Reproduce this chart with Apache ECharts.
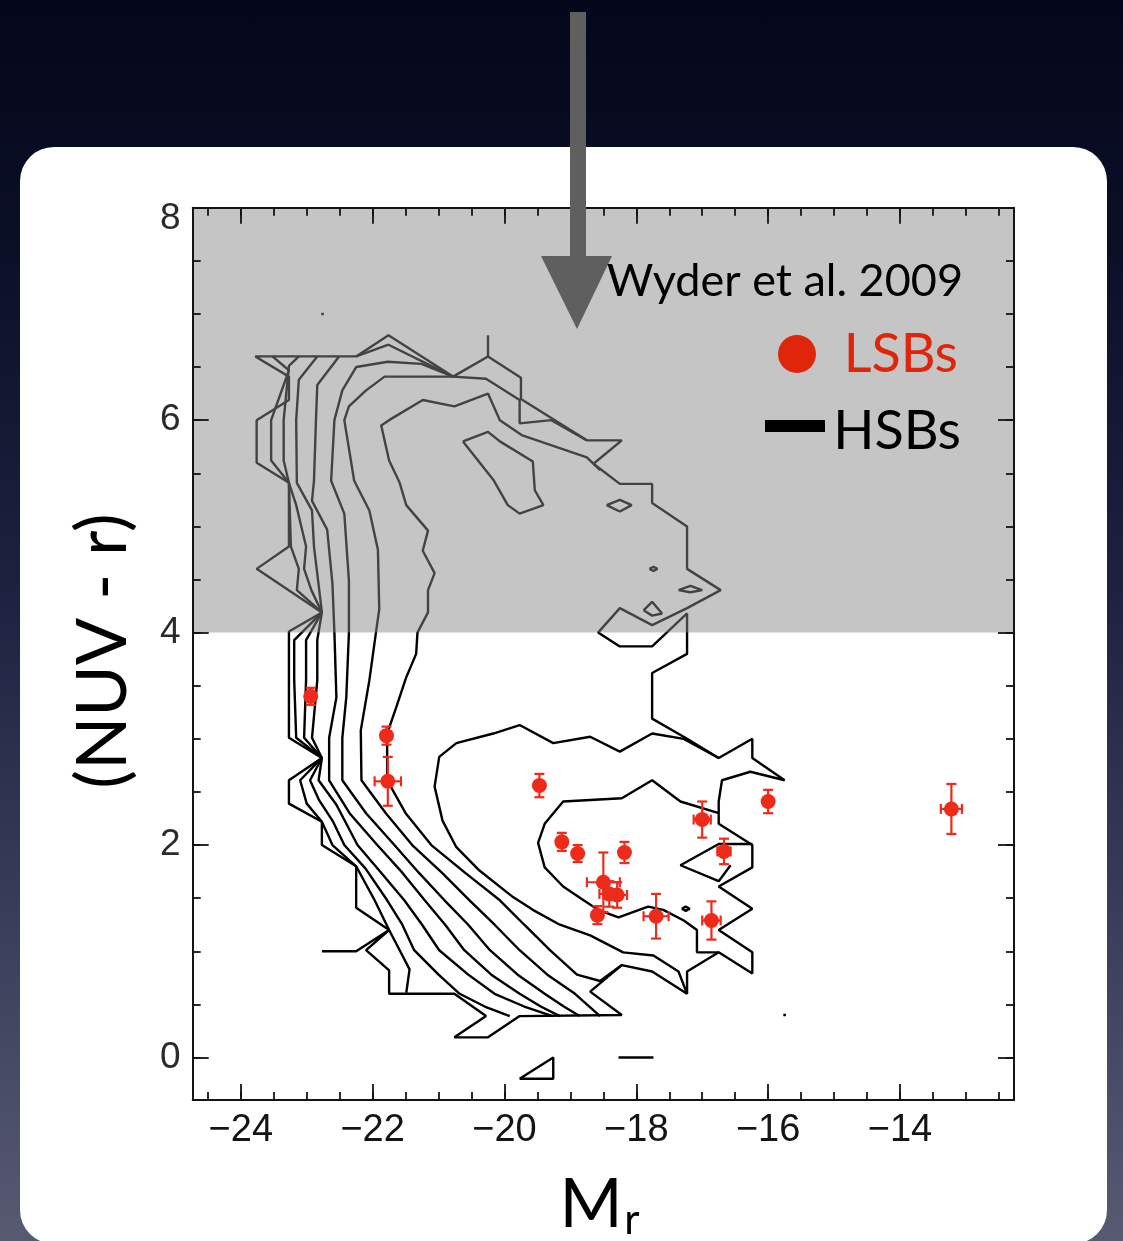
<!DOCTYPE html>
<html>
<head>
<meta charset="utf-8">
<script src="https://cdn.jsdelivr.net/npm/echarts@6/dist/echarts.min.js"></script>
<style>
  html, body { margin:0; padding:0; width:1123px; height:1241px; overflow:hidden;
    background: linear-gradient(to bottom, #04071a 0%, #0c1028 22%, #1e2240 48%, #383b58 72%, #575a71 100%); }
  #panel { position:absolute; left:20px; top:147px; width:1087px; height:1097px; background:#fff; border-radius:34px; }
  #chart { position:absolute; left:0; top:0; width:1123px; height:1241px; }
</style>
</head>
<body>
<div id="panel"></div>
<div id="chart"></div>
<script>
// ---- axes ----
const xRange = [-24.73, -12.27];
const yRange = [-0.4, 8];
const xMajorTicks = [-24, -22, -20, -18, -16, -14];
const yMajorTicks = [0, 2, 4, 6, 8];
const minorStep = 0.5;
const shadedBand = [4, 8];

// ---- LSB galaxies: M_r, (NUV - r) and their errors ----
const lsbMr        = [-22.94, -21.79, -21.77, -19.47, -19.13, -18.89, -18.18, -18.50, -18.41, -18.29, -18.59, -17.70, -16.86, -17.00, -16.67, -16.00, -13.22];
const lsbColour    = [3.40, 3.03, 2.60, 2.56, 2.03, 1.92, 1.93, 1.65, 1.54, 1.53, 1.34, 1.33, 1.29, 2.24, 1.94, 2.41, 2.34];
const lsbMrErr     = [0, 0, 0.20, 0, 0, 0, 0, 0.25, 0.15, 0.15, 0, 0.19, 0.14, 0.13, 0.10, 0, 0.16];
const lsbColourErr = [0.08, 0.085, 0.23, 0.11, 0.085, 0.08, 0.10, 0.28, 0.12, 0.12, 0.085, 0.21, 0.18, 0.17, 0.12, 0.11, 0.235];

// ---- HSB density contours (Wyder et al. 2009), vertices in [M_r, NUV-r] ----
const hsbOuter = [[-22.77,1.00],[-22.25,1.00],[-21.75,1.20],[-22.25,1.41],[-22.25,1.80],[-22.77,2.00],[-22.77,2.22],[-23.27,2.39],[-23.27,2.61],[-22.77,2.82],[-23.27,3.01],[-23.27,4.01],[-22.77,4.19],[-23.76,4.60],[-23.27,4.81],[-23.27,5.41],[-23.76,5.60],[-23.76,6.00],[-23.27,6.19],[-23.27,6.41],[-23.78,6.60],[-22.25,6.60],[-21.76,6.80],[-20.78,6.41],[-20.25,6.60],[-19.75,6.40],[-19.75,6.20],[-18.75,5.81],[-18.22,5.81],[-18.65,5.59],[-18.25,5.40],[-17.76,5.40],[-17.76,5.22],[-17.23,5.00],[-17.23,4.60],[-16.72,4.40],[-17.23,4.23],[-17.76,4.07],[-18.25,4.23],[-18.58,4.00],[-18.25,3.87],[-17.76,3.87],[-17.23,4.18],[-17.23,3.80],[-17.76,3.62],[-17.76,3.19],[-17.23,3.00],[-16.75,2.82],[-16.24,3.00],[-16.24,2.82],[-15.75,2.61],[-16.27,2.69],[-16.70,2.61],[-16.75,2.41],[-16.75,2.20],[-16.24,2.00],[-16.24,1.79],[-16.75,1.61],[-16.24,1.40],[-16.75,1.20],[-16.24,0.99],[-16.24,0.79],[-16.75,0.99],[-17.23,0.81],[-17.23,0.60],[-17.76,0.81],[-18.22,0.87],[-18.70,0.62],[-18.22,0.40],[-19.77,0.39],[-20.25,0.19],[-20.76,0.19],[-20.28,0.39],[-20.76,0.60],[-21.75,0.60],[-21.75,0.82],[-22.10,1.01],[-21.75,1.20]];
const hsbBand1 = [[-23.52,6.60],[-23.27,6.47],[-23.54,6.00],[-23.54,5.62],[-23.27,5.41],[-23.24,4.81],[-23.12,4.60],[-23.15,4.40],[-22.77,4.19],[-23.19,3.93],[-23.19,3.55],[-23.16,3.01],[-22.77,2.82],[-23.10,2.61],[-23.00,2.39],[-22.77,2.22],[-22.61,2.00],[-22.25,1.80],[-21.97,1.48],[-21.75,1.20],[-21.59,1.01],[-21.44,0.83],[-21.49,0.61]];
const hsbBand2 = [[-23.12,6.60],[-23.27,6.51],[-23.35,6.00],[-23.35,5.62],[-23.27,5.41],[-23.16,5.20],[-23.01,4.81],[-23.04,4.60],[-22.93,4.40],[-22.77,4.19],[-23.01,3.93],[-23.01,3.55],[-23.04,3.01],[-22.77,2.82],[-22.95,2.61],[-22.81,2.42],[-22.60,2.22],[-22.43,2.00],[-22.11,1.78],[-21.78,1.48],[-21.55,1.25],[-21.37,1.01],[-21.00,0.78],[-20.68,0.60],[-20.30,0.48],[-19.92,0.39]];
const hsbBand3 = [[-22.84,6.60],[-23.12,6.38],[-23.16,6.00],[-23.15,5.41],[-22.92,5.15],[-22.89,4.81],[-22.81,4.40],[-22.77,4.19],[-22.84,3.93],[-22.84,3.55],[-22.92,3.01],[-22.77,2.82],[-22.82,2.61],[-22.55,2.38],[-22.23,2.00],[-21.90,1.76],[-21.52,1.48],[-21.25,1.25],[-20.99,1.01],[-20.55,0.78],[-20.15,0.60],[-19.70,0.48],[-19.27,0.39]];
const hsbBand4 = [[-22.51,6.60],[-22.84,6.33],[-22.86,6.00],[-22.89,5.43],[-22.92,5.24],[-22.69,4.97],[-22.61,4.46],[-22.58,4.00],[-22.55,3.39],[-22.66,3.01],[-22.66,2.61],[-22.35,2.30],[-21.93,2.00],[-21.55,1.74],[-21.21,1.48],[-20.90,1.25],[-20.61,1.01],[-20.20,0.78],[-19.77,0.60],[-19.45,0.48],[-19.16,0.39]];
const hsbBand5 = [[-20.78,6.41],[-21.26,6.53],[-21.77,6.55],[-22.25,6.50],[-22.46,6.28],[-22.58,6.00],[-22.63,5.43],[-22.43,5.12],[-22.36,4.49],[-22.36,4.00],[-22.40,3.39],[-22.46,3.01],[-22.46,2.61],[-22.10,2.30],[-21.67,2.00],[-21.30,1.74],[-20.91,1.48],[-20.55,1.25],[-20.22,1.01],[-19.80,0.78],[-19.39,0.60],[-19.10,0.48],[-18.86,0.39]];
const hsbBand6 = [[-18.75,5.81],[-19.29,6.00],[-19.77,5.97],[-19.77,6.19],[-20.28,6.39],[-20.78,6.41],[-21.82,6.41],[-22.10,6.28],[-22.36,6.13],[-22.43,6.00],[-22.28,5.43],[-22.05,5.15],[-21.92,4.78],[-21.90,4.22],[-21.95,4.00],[-22.05,3.55],[-22.18,3.08],[-22.17,2.61],[-21.80,2.30],[-21.40,2.00],[-20.95,1.74],[-20.53,1.48],[-20.15,1.25],[-19.77,1.01],[-19.35,0.78],[-18.93,0.60],[-18.55,0.39]];
const hsbBand7 = [[-18.55,5.53],[-18.75,5.65],[-19.74,5.86],[-20.07,6.00],[-20.25,6.25],[-20.76,6.13],[-21.24,6.19],[-21.75,6.00],[-21.87,5.95],[-21.75,5.62],[-21.59,5.41],[-21.49,5.20],[-21.16,4.96],[-21.24,4.77],[-21.06,4.56],[-21.16,4.40],[-21.16,4.19],[-21.32,4.00],[-21.34,3.80],[-21.49,3.58],[-21.64,3.30],[-21.78,3.05],[-21.78,2.61],[-21.50,2.30],[-21.11,2.00],[-20.60,1.74],[-20.07,1.48],[-19.70,1.25],[-19.31,1.01],[-18.90,0.78],[-18.55,0.72],[-18.22,0.87]];
const hsbPeak = [[-22.25,6.60],[-21.76,6.71],[-20.78,6.41]];
const hsbSpike = [[-20.25,6.60],[-20.25,6.80]];
const hsbUpperLoop = [[-20.63,5.80],[-20.25,5.89],[-20.07,5.80],[-19.57,5.61],[-19.54,5.34],[-19.41,5.20],[-19.77,5.12],[-19.95,5.20],[-20.17,5.44],[-20.63,5.80]];
const hsbCluster = [[-16.75,2.82],[-17.28,3.00],[-17.76,3.05],[-18.25,2.88],[-18.70,3.02],[-19.26,2.96],[-19.77,3.13],[-20.17,3.05],[-20.73,2.96],[-20.99,2.83],[-21.06,2.55],[-20.94,2.23],[-20.73,1.98],[-20.38,1.76],[-19.87,1.51],[-19.57,1.39],[-19.16,1.25],[-18.70,1.15],[-18.20,0.99],[-17.74,0.96],[-17.36,0.81],[-17.23,0.60]];
const hsbCore = [[-16.75,2.30],[-17.33,2.41],[-17.76,2.61],[-18.22,2.44],[-19.11,2.41],[-19.39,2.20],[-19.49,2.02],[-19.39,1.79],[-19.11,1.61],[-18.80,1.48],[-18.58,1.39],[-18.27,1.32],[-17.82,1.42],[-17.59,1.39],[-17.28,1.29],[-17.08,1.20],[-17.08,0.99],[-16.75,0.99]];
const hsbWedge = [[-16.24,2.01],[-16.75,2.01],[-17.33,1.81],[-16.75,1.66],[-16.57,1.81]];
const hsbIslandA = [[-18.45,5.20],[-18.25,5.25],[-18.07,5.20],[-18.25,5.14],[-18.45,5.20]];
const hsbIslandB = [[-17.36,4.40],[-17.18,4.44],[-17.00,4.40],[-17.18,4.38],[-17.36,4.40]];
const hsbIslandC = [[-17.89,4.21],[-17.76,4.29],[-17.61,4.18],[-17.76,4.16],[-17.89,4.21]];
const hsbIslandD = [[-17.80,4.60],[-17.74,4.62],[-17.68,4.60],[-17.74,4.58],[-17.80,4.60]];
const hsbIslandE = [[-17.31,1.40],[-17.25,1.42],[-17.19,1.40],[-17.25,1.38],[-17.31,1.40]];
const hsbIslandF = [[-18.27,0.00],[-17.74,0.00]];
const hsbIslandG = [[-19.77,-0.20],[-19.26,0.00],[-19.26,-0.20],[-19.77,-0.20]];
const hsbSpeckA = [[-22.78,7.00],[-22.74,7.00]];
const hsbSpeckB = [[-15.77,0.40],[-15.73,0.40]];

const contours = [hsbOuter, hsbBand1, hsbBand2, hsbBand3, hsbBand4, hsbBand5, hsbBand6, hsbBand7,
  hsbPeak, hsbSpike, hsbUpperLoop, hsbCluster, hsbCore, hsbWedge,
  hsbIslandA, hsbIslandB, hsbIslandC, hsbIslandD, hsbIslandE, hsbIslandF, hsbIslandG, hsbSpeckA, hsbSpeckB];

function steps(from, to, step) {
  const out = [];
  for (let v = from; v <= to + 1e-9; v += step) out.push(+v.toFixed(3));
  return out;
}
const xMinorTicks = steps(-24.5, -12.5, minorStep);
const yMinorTicks = steps(0, 8, minorStep);

const RED = '#ee2a1a';
const INK = '#141414';
const minus = v => String(v).replace('-', '\u2212');

function xAxisDef(position, ticks, len, showLine, showLabel) {
  return {
    type: 'value', position, min: xRange[0], max: xRange[1], z: 10,
    axisLine: { show: showLine, onZero: false, lineStyle: { color: INK, width: 2 } },
    axisTick: { show: true, inside: true, length: len, customValues: ticks, lineStyle: { color: INK, width: 1.8 } },
    axisLabel: { show: showLabel, customValues: xMajorTicks, formatter: minus, margin: 12,
      fontFamily: 'Liberation Sans', fontSize: 38, color: INK },
    splitLine: { show: false }
  };
}
function yAxisDef(position, ticks, len, showLine, showLabel) {
  return {
    type: 'value', position, min: yRange[0], max: yRange[1], z: 10,
    axisLine: { show: showLine, onZero: false, lineStyle: { color: INK, width: 2 } },
    axisTick: { show: true, inside: true, length: len, customValues: ticks, lineStyle: { color: INK, width: 1.8 } },
    axisLabel: { show: showLabel, customValues: yMajorTicks, margin: 12,
      formatter: v => (v === yRange[1] ? '{top|' + v + '}' : String(v)),
      rich: { top: { fontFamily: 'Liberation Sans', fontSize: 37, color: '#2a2a2a', padding: [22, 0, 0, 0] } },
      fontFamily: 'Liberation Sans', fontSize: 37, color: '#2a2a2a' },
    splitLine: { show: false }
  };
}

const series = contours.map(pts => ({
  type: 'line', data: pts, showSymbol: false, silent: true, z: 2,
  lineStyle: { color: '#000', width: 2.4 }, xAxisIndex: 0, yAxisIndex: 0
}));

// translucent band over the red-sequence region
series.push({
  type: 'custom', z: 5, silent: true, xAxisIndex: 0, yAxisIndex: 0,
  data: [[xRange[0], shadedBand[0]]],
  renderItem(params, api) {
    const a = api.coord([xRange[0], shadedBand[1]]);
    const b = api.coord([xRange[1], shadedBand[0]]);
    return { type: 'rect', shape: { x: a[0], y: a[1], width: b[0] - a[0], height: b[1] - a[1] },
      style: { fill: 'rgba(137,137,137,0.49)' } };
  }
});

// error bars of the LSB sample
series.push({
  type: 'custom', z: 8, silent: true, xAxisIndex: 0, yAxisIndex: 0,
  encode: { x: 0, y: 1 },
  data: lsbMr.map((x, i) => [x, lsbColour[i], lsbMrErr[i], lsbColourErr[i]]),
  renderItem(params, api) {
    const x = api.value(0), y = api.value(1), ex = api.value(2), ey = api.value(3);
    const style = { stroke: RED, lineWidth: 2.2 };
    const cap = 5;
    const kids = [];
    if (ey > 0) {
      const t = api.coord([x, y + ey]), b = api.coord([x, y - ey]);
      kids.push({ type: 'line', shape: { x1: t[0], y1: t[1], x2: b[0], y2: b[1] }, style });
      kids.push({ type: 'line', shape: { x1: t[0] - cap, y1: t[1], x2: t[0] + cap, y2: t[1] }, style });
      kids.push({ type: 'line', shape: { x1: b[0] - cap, y1: b[1], x2: b[0] + cap, y2: b[1] }, style });
    }
    if (ex > 0) {
      const l = api.coord([x - ex, y]), r = api.coord([x + ex, y]);
      kids.push({ type: 'line', shape: { x1: l[0], y1: l[1], x2: r[0], y2: r[1] }, style });
      kids.push({ type: 'line', shape: { x1: l[0], y1: l[1] - cap, x2: l[0], y2: l[1] + cap }, style });
      kids.push({ type: 'line', shape: { x1: r[0], y1: r[1] - cap, x2: r[0], y2: r[1] + cap }, style });
    }
    return { type: 'group', children: kids };
  }
});

series.push({
  type: 'scatter', z: 9, silent: true, xAxisIndex: 0, yAxisIndex: 0,
  data: lsbMr.map((x, i) => [x, lsbColour[i]]),
  symbol: 'circle', symbolSize: 15, itemStyle: { color: RED, opacity: 1 }
});

const chart = echarts.init(document.getElementById('chart'), null, { renderer: 'canvas' });
chart.setOption({
  animation: false,
  backgroundColor: 'transparent',
  grid: { left: 192.7, top: 207.7, width: 821.3, height: 892.3, containLabel: false },
  xAxis: [
    xAxisDef('bottom', xMajorTicks, 16, true, true),
    xAxisDef('bottom', xMinorTicks, 8, false, false),
    xAxisDef('top', xMajorTicks, 16, true, false),
    xAxisDef('top', xMinorTicks, 8, false, false)
  ],
  yAxis: [
    yAxisDef('left', yMajorTicks, 16, true, true),
    yAxisDef('left', yMinorTicks, 8, false, false),
    yAxisDef('right', yMajorTicks, 16, true, false),
    yAxisDef('right', yMinorTicks, 8, false, false)
  ],
  series,
  graphic: [
    { type: 'rect', z: 100, shape: { x: 570, y: 12, width: 16, height: 248 }, style: { fill: '#5f5f5f' } },
    { type: 'polygon', z: 100, shape: { points: [[541, 256], [612, 256], [577, 329]] }, style: { fill: '#5f5f5f' } },
    { type: 'text', z: 100, x: 963, y: 281, style: { text: 'Wyder et al. 2009', fontFamily: 'Lato', fontSize: 45,
        fill: '#000', align: 'right', verticalAlign: 'middle' } },
    { type: 'circle', z: 100, shape: { cx: 797, cy: 354, r: 19 }, style: { fill: '#e0260a' } },
    { type: 'text', z: 100, x: 958, y: 355, style: { text: 'LSBs', fontFamily: 'Lato', fontSize: 54,
        fill: '#e0260a', align: 'right', verticalAlign: 'middle' } },
    { type: 'rect', z: 100, shape: { x: 765, y: 420, width: 60, height: 12 }, style: { fill: '#000' } },
    { type: 'text', z: 100, x: 961, y: 432, style: { text: 'HSBs', fontFamily: 'Lato', fontSize: 54,
        fill: '#000', align: 'right', verticalAlign: 'middle' } },
    { type: 'text', z: 100, x: 103, y: 651, rotation: Math.PI / 2, style: { text: '(NUV - r)', fontFamily: 'Lato',
        fontSize: 70, fill: '#000', align: 'center', verticalAlign: 'middle' } },
    { type: 'text', z: 100, x: 591, y: 1205, style: { text: 'M', fontFamily: 'Lato', fontSize: 68,
        fill: '#000', align: 'center', verticalAlign: 'middle' } },
    { type: 'text', z: 100, x: 632, y: 1220, style: { text: 'r', fontFamily: 'Lato', fontSize: 42,
        fill: '#000', align: 'center', verticalAlign: 'middle' } }
  ]
});
</script>
</body>
</html>
